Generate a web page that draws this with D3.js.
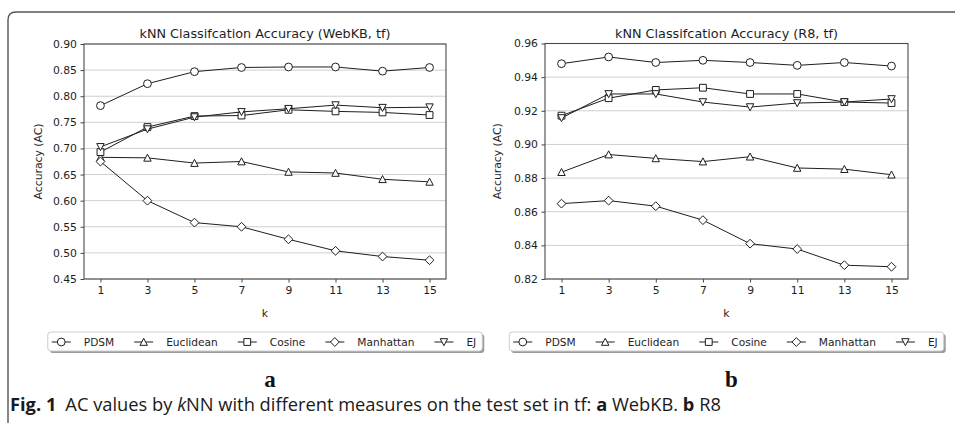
<!DOCTYPE html>
<html>
<head>
<meta charset="utf-8">
<script src="https://cdn.jsdelivr.net/npm/d3@7"></script>
<style>
body { margin: 0; background: #fff; }
svg { display: block; }
</style>
</head>
<body>
<svg id="fig" width="955" height="423"></svg>
<script>
// k values on the x axis
var ks = [1, 3, 5, 7, 9, 11, 13, 15];
var seriesNames = ["PDSM", "Euclidean", "Cosine", "Manhattan", "EJ"];

// WebKB, tf
var webkbPDSM      = [0.782, 0.824, 0.847, 0.855, 0.856, 0.856, 0.848, 0.855];
var webkbEuclidean = [0.683, 0.682, 0.672, 0.675, 0.655, 0.653, 0.641, 0.636];
var webkbCosine    = [0.693, 0.741, 0.762, 0.763, 0.774, 0.771, 0.769, 0.764];
var webkbManhattan = [0.675, 0.600, 0.558, 0.550, 0.526, 0.504, 0.493, 0.486];
var webkbEJ        = [0.703, 0.737, 0.760, 0.770, 0.776, 0.783, 0.778, 0.779];
var webkbTicks = [0.45, 0.50, 0.55, 0.60, 0.65, 0.70, 0.75, 0.80, 0.85, 0.90];

// R8, tf
var r8PDSM      = [0.948, 0.952, 0.9487, 0.950, 0.9487, 0.947, 0.9487, 0.9466];
var r8Euclidean = [0.8835, 0.894, 0.8917, 0.8898, 0.8927, 0.886, 0.8853, 0.882];
var r8Cosine    = [0.9171, 0.9275, 0.9324, 0.9337, 0.930, 0.930, 0.9252, 0.9246];
var r8Manhattan = [0.8648, 0.8666, 0.8633, 0.855, 0.841, 0.8378, 0.8282, 0.8273];
var r8EJ        = [0.9157, 0.930, 0.930, 0.9252, 0.9222, 0.9246, 0.9252, 0.927];
var r8Ticks = [0.82, 0.84, 0.86, 0.88, 0.90, 0.92, 0.94, 0.96];

var svg = d3.select("#fig");
var FONT = "'DejaVu Sans', sans-serif";
var INK = "#1e1e1e";

// marker shapes, size arg = half width
var markers = {
	circle: { draw: function(c, r){ c.moveTo(r, 0); c.arc(0, 0, r, 0, 2 * Math.PI); } },
	up: { draw: function(c, r){ c.moveTo(0, -r); c.lineTo(r, r * 0.9); c.lineTo(-r, r * 0.9); c.closePath(); } },
	square: { draw: function(c, r){ c.rect(-r, -r, 2 * r, 2 * r); } },
	diamond: { draw: function(c, r){ c.moveTo(0, -r); c.lineTo(r, 0); c.lineTo(0, r); c.lineTo(-r, 0); c.closePath(); } },
	down: { draw: function(c, r){ c.moveTo(0, r); c.lineTo(r, -r * 0.9); c.lineTo(-r, -r * 0.9); c.closePath(); } }
};
var markerTypes = ["circle", "up", "square", "diamond", "down"];
var markerSizes = [3.9, 3.7, 3.4, 4.4, 3.7];

function symbolPath(i){
	return d3.symbol().type(markers[markerTypes[i]]).size(markerSizes[i])();
}

// outer figure frame
svg.append("path")
	.attr("d", "M8,423 L8,20 Q8,12 16,12 L955,12")
	.attr("fill", "none")
	.attr("stroke", "#555")
	.attr("stroke-width", 1.4);

var panels = [
	{ title: "kNN Classifcation Accuracy (WebKB, tf)", left: 84, right: 446, top: 44, bottom: 279,
	  yDomain: [0.45, 0.90], yTicks: webkbTicks, ylabX: 38, letter: "a",
	  data: [webkbPDSM, webkbEuclidean, webkbCosine, webkbManhattan, webkbEJ] },
	{ title: "kNN Classifcation Accuracy (R8, tf)", left: 545, right: 908, top: 43.5, bottom: 279,
	  yDomain: [0.82, 0.96], yTicks: r8Ticks, ylabX: 497, letter: "b",
	  data: [r8PDSM, r8Euclidean, r8Cosine, r8Manhattan, r8EJ] }
];

panels.forEach(function(p){
	var x = d3.scaleLinear().domain([0.3, 15.7]).range([p.left, p.right]);
	var y = d3.scaleLinear().domain(p.yDomain).range([p.bottom, p.top]);
	var g = svg.append("g");
	var cx = (p.left + p.right) / 2;

	// grid
	g.append("g").selectAll("line")
		.data(p.yTicks)
		.enter().append("line")
		.attr("x1", p.left).attr("x2", p.right)
		.attr("y1", function(d){ return y(d); })
		.attr("y2", function(d){ return y(d); })
		.attr("stroke", "#cfcfcf")
		.attr("stroke-width", 1);

	// axes
	var xAxis = g.append("g")
		.attr("transform", "translate(0," + p.bottom + ")")
		.call(d3.axisBottom(x).tickValues(ks).tickSize(3.5).tickPadding(3.5));
	var yAxis = g.append("g")
		.attr("transform", "translate(" + p.left + ",0)")
		.call(d3.axisLeft(y).tickValues(p.yTicks).tickFormat(d3.format(".2f")).tickSize(3.5).tickPadding(3.5));
	[xAxis, yAxis].forEach(function(a){
		a.select(".domain").remove();
		a.selectAll("line").attr("stroke", "#444");
		a.selectAll("text").attr("fill", INK).style("font-family", FONT).style("font-size", "10.8px");
	});

	// spines
	g.append("rect")
		.attr("x", p.left).attr("y", p.top)
		.attr("width", p.right - p.left).attr("height", p.bottom - p.top)
		.attr("fill", "none")
		.attr("stroke", "#4a4a4a")
		.attr("stroke-width", 1.1);

	// series lines and markers
	var line = d3.line()
		.x(function(d, i){ return x(ks[i]); })
		.y(function(d){ return y(d); });

	p.data.forEach(function(vals, si){
		g.append("path")
			.datum(vals)
			.attr("fill", "none")
			.attr("stroke", INK)
			.attr("stroke-width", 1)
			.attr("d", line);
		g.append("g").selectAll("path")
			.data(vals)
			.enter().append("path")
			.attr("transform", function(d, i){ return "translate(" + x(ks[i]) + "," + y(d) + ")"; })
			.attr("d", symbolPath(si))
			.attr("fill", "#fff")
			.attr("stroke", INK)
			.attr("stroke-width", 1);
	});

	// title and labels
	g.append("text")
		.attr("x", cx).attr("y", 38)
		.attr("text-anchor", "middle")
		.style("font-family", FONT).style("font-size", "12.8px")
		.attr("fill", INK)
		.text(p.title);
	g.append("text")
		.attr("x", cx).attr("y", 316.5)
		.attr("text-anchor", "middle")
		.style("font-family", FONT).style("font-size", "10.8px")
		.attr("fill", INK)
		.text("k");
	g.append("text")
		.attr("transform", "translate(" + (p.ylabX + 3.8) + "," + ((p.top + p.bottom) / 2) + ") rotate(-90)")
		.attr("text-anchor", "middle")
		.style("font-family", FONT).style("font-size", "10.8px")
		.attr("fill", INK)
		.text("Accuracy (AC)");

	// legend
	var leg = g.append("g");
	var shadow = leg.append("rect");
	var box = leg.append("rect");
	var items = leg.append("g");
	var pos = 0;
	seriesNames.forEach(function(name, si){
		var it = items.append("g").attr("transform", "translate(" + pos + ",0)");
		it.append("line").attr("x1", 0).attr("x2", 19).attr("y1", 0).attr("y2", 0)
			.attr("stroke", INK).attr("stroke-width", 1);
		it.append("path").attr("transform", "translate(9.5,0)")
			.attr("d", symbolPath(si))
			.attr("fill", "#fff").attr("stroke", INK).attr("stroke-width", 1);
		var t = it.append("text").attr("x", 32).attr("y", 3.8)
			.style("font-family", FONT).style("font-size", "10.6px")
			.attr("fill", INK)
			.text(name);
		pos += 32 + t.node().getComputedTextLength() + 20;
	});
	var contentW = pos - 20;
	var bw = contentW + 10;
	var bx = cx - bw / 2;
	items.attr("transform", "translate(" + (bx + 4) + ",342)");
	shadow.attr("x", bx + 2).attr("y", 334).attr("width", bw).attr("height", 19)
		.attr("rx", 3).attr("fill", "#9a9a9a");
	box.attr("x", bx).attr("y", 332).attr("width", bw).attr("height", 19)
		.attr("rx", 3).attr("fill", "#fff").attr("stroke", "#cccccc").attr("stroke-width", 1);

	// panel letter
	g.append("text")
		.attr("x", cx + 5).attr("y", 387)
		.attr("text-anchor", "middle")
		.style("font-family", "'Liberation Serif', serif").style("font-size", "23px").style("font-weight", "bold")
		.attr("fill", "#111")
		.text(p.letter);
});

// caption
var cap = svg.append("text")
	.attr("x", 10).attr("y", 411)
	.style("font-family", "'Open Sans', sans-serif").style("font-size", "18.3px")
	.attr("fill", "#1a1a1a");
cap.append("tspan").style("font-weight", "bold").text("Fig. 1");
cap.append("tspan").attr("dx", 9).text("AC values by ");
cap.append("tspan").style("font-style", "italic").text("k");
cap.append("tspan").text("NN with different measures on the test set in tf: ");
cap.append("tspan").style("font-weight", "bold").text("a");
cap.append("tspan").text(" WebKB. ");
cap.append("tspan").style("font-weight", "bold").text("b");
cap.append("tspan").text(" R8");
</script>
</body>
</html>
